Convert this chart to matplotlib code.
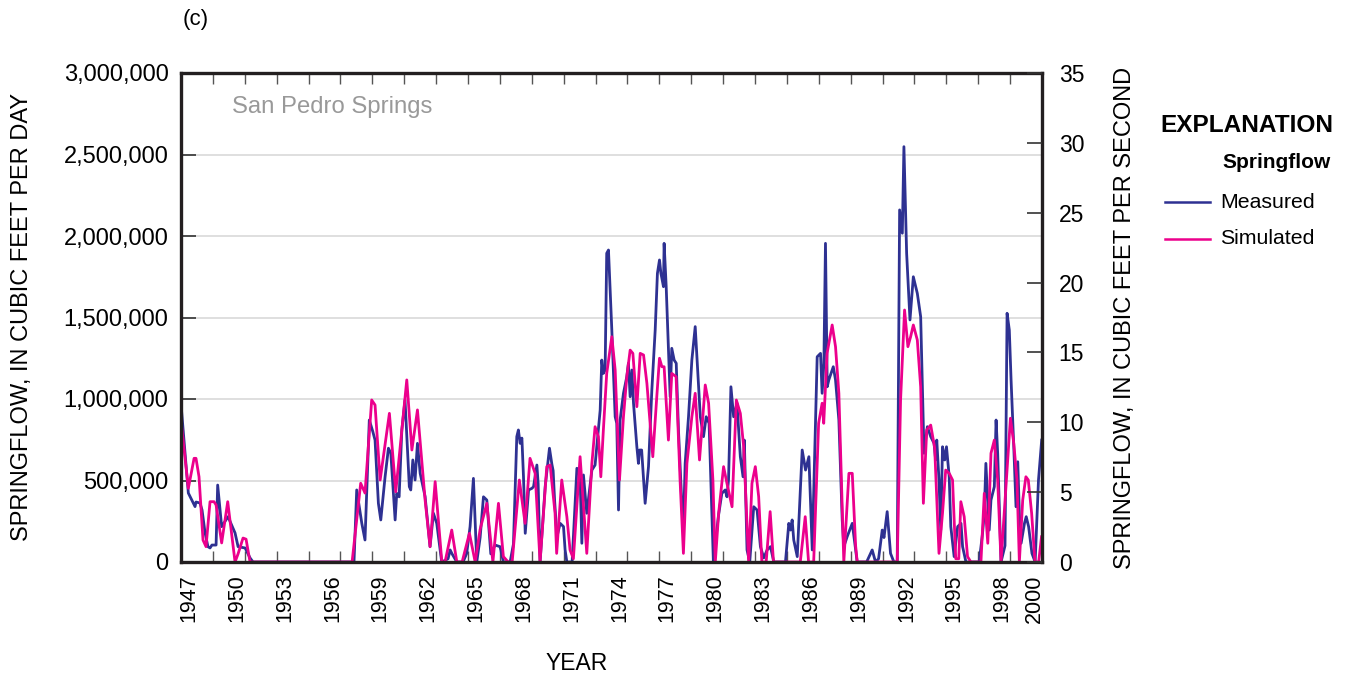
import numpy as np
import matplotlib
matplotlib.use("Agg")
import matplotlib.pyplot as plt

plt.rcParams["font.family"] = ["Liberation Sans", "DejaVu Sans"]

# springflow at San Pedro Springs, thousands of cubic feet per day
measured_year = [
    1947.04, 1947.46, 1947.88, 1947.94, 1948.19, 1948.32, 1948.51, 1948.69, 1948.82, 1948.94,
    1949.20, 1949.30, 1949.55, 1949.95, 1950.39, 1950.58, 1951.02, 1951.33, 1951.52,
    1957.85, 1958.02, 1958.34, 1958.54, 1958.81, 1959.03, 1959.17, 1959.38, 1959.53, 1959.80,
    1960.01, 1960.16, 1960.43, 1960.53, 1960.68, 1960.85, 1961.05, 1961.32, 1961.41, 1961.54,
    1961.68, 1961.83, 1962.00, 1962.31, 1962.62, 1962.83, 1963.04, 1963.35, 1963.75, 1963.88,
    1964.00, 1964.30, 1964.69, 1964.92, 1965.13, 1965.34, 1965.55, 1965.76, 1965.97, 1966.18,
    1966.43, 1966.70, 1967.01, 1967.22, 1967.64, 1967.85, 1968.06, 1968.16, 1968.27, 1968.38,
    1968.48, 1968.59, 1968.80, 1969.01, 1969.11, 1969.32, 1969.40, 1969.52, 1969.84, 1970.11,
    1970.26, 1970.34, 1970.43, 1970.58, 1970.78, 1970.99, 1971.09, 1971.20, 1971.53, 1971.83,
    1972.03, 1972.14, 1972.24, 1972.45, 1972.77, 1972.97, 1973.29, 1973.39, 1973.49, 1973.60,
    1973.70, 1973.81, 1974.02, 1974.23, 1974.33, 1974.44, 1974.54, 1974.75, 1974.96, 1975.06,
    1975.17, 1975.28, 1975.38, 1975.59, 1975.69, 1975.76, 1975.89, 1976.01, 1976.11, 1976.32,
    1976.53, 1976.74, 1976.88, 1977.01, 1977.10, 1977.26, 1977.30, 1977.43, 1977.68, 1977.78,
    1977.93, 1978.06, 1978.20, 1978.41, 1978.52, 1978.62, 1978.83, 1979.04, 1979.25, 1979.46,
    1979.57, 1979.77, 1979.94, 1980.12, 1980.28, 1980.39, 1980.70, 1980.92, 1981.13, 1981.24,
    1981.34, 1981.49, 1981.66, 1981.87, 1982.08, 1982.25, 1982.33, 1982.50, 1982.67, 1982.92,
    1983.13, 1983.34, 1983.55, 1983.76, 1983.97, 1984.18, 1984.91, 1985.12, 1985.23, 1985.33,
    1985.43, 1985.65, 1985.96, 1986.17, 1986.38, 1986.59, 1986.90, 1987.11, 1987.21, 1987.32,
    1987.42, 1987.53, 1987.63, 1987.91, 1988.05, 1988.26, 1988.47, 1988.57, 1988.78, 1989.10,
    1989.41, 1990.00, 1990.35, 1990.56, 1990.75, 1990.98, 1991.09, 1991.29, 1991.50, 1991.71,
    1991.92, 1992.07, 1992.24, 1992.34, 1992.51, 1992.72, 1992.93, 1993.18, 1993.39, 1993.60,
    1993.81, 1994.02, 1994.23, 1994.33, 1994.40, 1994.54, 1994.65, 1994.76, 1994.90, 1995.01,
    1995.18, 1995.28, 1995.49, 1995.71, 1995.92, 1996.02, 1996.23, 1997.06, 1997.27, 1997.38,
    1997.48, 1997.69, 1997.80, 1998.01, 1998.12, 1998.22, 1998.43, 1998.68, 1998.81, 1998.95,
    1999.06, 1999.23, 1999.37, 1999.48, 1999.58, 1999.69, 1999.90, 2000.01, 2000.16, 2000.37,
    2000.57, 2000.78, 2000.98,
]
measured_flow = [
    922, 423, 340, 368, 362, 319, 178, 94, 86, 104,
    104, 472, 217, 278, 178, 94, 86, 25, 0,
    0, 442, 237, 135, 871, 800, 748, 360, 258, 523,
    698, 667, 258, 421, 400, 810, 994, 462, 442, 626,
    503, 728, 544, 401, 94, 299, 237, 0, 20, 74,
    50, 0, 0, 53, 217, 513, 0, 150, 400, 380,
    50, 104, 94, 0, 0, 110, 769, 810, 728, 760,
    523, 176, 442, 452, 462, 595, 480, 0, 462, 698,
    600, 560, 380, 155, 237, 217, 74, 0, 0, 575,
    523, 115, 534, 299, 564, 595, 932, 1239, 1157, 1178,
    1894, 1914, 1423, 891, 851, 319, 871, 1035, 1137, 1219,
    1014, 1178, 974, 707, 605, 687, 687, 503, 360, 585,
    1055, 1423, 1771, 1853, 1771, 1689, 1955, 1690, 1014, 1311,
    1239, 1219, 810, 360, 237, 605, 891, 1239, 1444, 1075,
    891, 769, 891, 851, 339, 0, 278, 421, 442, 400,
    503, 1075, 891, 974, 646, 523, 748, 74, 0, 339,
    319, 94, 25, 74, 94, 0, 0, 237, 196, 258,
    135, 33, 687, 564, 646, 74, 1259, 1280, 1035, 1219,
    1955, 1075, 1117, 1198, 1117, 871, 258, 94, 155, 237,
    0, 0, 74, 0, 20, 196, 150, 309, 53, 0,
    0, 2160, 2017, 2548, 1894, 1485, 1750, 1648, 1505, 667,
    830, 769, 728, 626, 748, 503, 196, 707, 626, 707,
    523, 217, 33, 217, 237, 94, 0, 0, 176, 299,
    605, 196, 380, 462, 871, 667, 0, 100, 1526, 1423,
    1117, 707, 339, 615, 299, 115, 237, 278, 217, 53,
    0, 503, 748,
]

simulated_year = [
    1947.04, 1947.46, 1947.82, 1947.94, 1948.13, 1948.38, 1948.57, 1948.82, 1949.07, 1949.20,
    1949.55, 1949.93, 1950.39, 1950.58, 1950.89, 1951.08, 1951.33,
    1957.73, 1958.27, 1958.54, 1958.96, 1959.17, 1959.49, 1960.07, 1960.47, 1961.16, 1961.48,
    1961.83, 1962.31, 1962.62, 1962.94, 1963.36, 1963.56, 1963.98, 1964.30, 1964.63, 1965.09,
    1965.45, 1965.76, 1966.18, 1966.56, 1966.91, 1967.22, 1967.52, 1967.77, 1968.22, 1968.58,
    1968.89, 1969.21, 1969.52, 1969.94, 1970.15, 1970.46, 1970.56, 1970.88, 1971.20, 1971.40,
    1971.61, 1972.03, 1972.35, 1972.45, 1972.77, 1972.97, 1973.18, 1973.33, 1973.49, 1973.70,
    1974.02, 1974.23, 1974.50, 1974.75, 1974.96, 1975.17, 1975.34, 1975.59, 1975.80, 1976.01,
    1976.22, 1976.59, 1976.84, 1977.01, 1977.16, 1977.30, 1977.57, 1977.78, 1978.05, 1978.30,
    1978.51, 1978.73, 1979.04, 1979.25, 1979.52, 1979.88, 1980.09, 1980.36, 1980.51, 1980.72,
    1981.03, 1981.24, 1981.56, 1981.83, 1982.08, 1982.29, 1982.60, 1982.81, 1983.02, 1983.23,
    1983.43, 1983.70, 1983.95, 1984.16, 1985.84, 1986.15, 1986.36, 1986.68, 1986.99, 1987.21,
    1987.31, 1987.52, 1987.84, 1988.05, 1988.26, 1988.57, 1988.89, 1989.10, 1989.31, 1989.41,
    1991.92, 1992.13, 1992.38, 1992.59, 1992.76, 1992.93, 1993.18, 1993.39, 1993.56, 1993.77,
    1994.02, 1994.27, 1994.54, 1994.76, 1994.96, 1995.18, 1995.39, 1995.59, 1995.78, 1995.91,
    1996.12, 1996.33, 1996.54, 1997.17, 1997.38, 1997.60, 1997.80, 1998.01, 1998.22, 1998.43,
    1998.75, 1999.02, 1999.23, 1999.43, 1999.58, 1999.79, 1999.99, 2000.14, 2000.35, 2000.56,
    2000.79, 2000.97,
]
simulated_flow = [
    830, 452, 636, 636, 523, 135, 94, 370, 370, 350,
    117, 370, 0, 50, 147, 140, 0,
    0, 483, 423, 994, 963, 503, 912, 431, 1117, 687,
    933, 380, 94, 493, 0, 0, 196, 0, 0, 176,
    0, 200, 360, 0, 360, 33, 0, 0, 503, 237,
    636, 544, 0, 585, 595, 299, 53, 503, 278, 74,
    20, 646, 196, 53, 605, 830, 769, 523, 810, 1157,
    1382, 1178, 503, 891, 1137, 1300, 1280, 953, 1280, 1270,
    1096, 646, 1014, 1250, 1198, 1198, 748, 1157, 1137, 503,
    53, 605, 891, 1035, 626, 1086, 974, 503, 0, 299,
    585, 483, 339, 994, 912, 707, 0, 483, 585, 401,
    0, 0, 309, 0, 0, 278, 0, 0, 851, 974,
    851, 1280, 1454, 1321, 1035, 0, 544, 544, 100, 0,
    0, 994, 1546, 1321, 1382, 1454, 1362, 1075, 360, 810,
    840, 700, 53, 299, 564, 544, 503, 20, 20, 370,
    278, 33, 0, 0, 421, 115, 667, 748, 503, 0,
    483, 882, 728, 503, 0, 380, 523, 503, 299, 0,
    0, 155,
]

year_labels = [1947, 1950, 1953, 1956, 1959, 1962, 1965, 1968, 1971, 1974,
               1977, 1980, 1983, 1986, 1989, 1992, 1995, 1998, 2000]
cfd_ticks = [0, 500000, 1000000, 1500000, 2000000, 2500000, 3000000]
cfs_ticks = [0, 5, 10, 15, 20, 25, 30, 35]

BLUE = "#2e3192"
PINK = "#ec008c"

fig = plt.figure(figsize=(13.46, 6.76), dpi=100)
ax = fig.add_axes([181 / 1346, 1 - 562 / 676, 861 / 1346, 489 / 676])

ax.plot(measured_year, np.array(measured_flow) * 1000, color=BLUE, lw=2.0, zorder=3)
ax.plot(simulated_year, np.array(simulated_flow) * 1000, color=PINK, lw=2.0, zorder=4)

ax.set_xlim(1947, 2001)
ax.set_ylim(0, 3000000)

# year labels sit mid-year, small ticks mark every other year boundary
ax.set_xticks([y + 0.5 for y in year_labels])
ax.set_xticklabels([str(y) for y in year_labels], rotation=90, fontsize=15.5)
ax.set_xticks(np.arange(1949, 2001, 2), minor=True)
ax.tick_params(axis="x", which="major", length=0, pad=9)
ax.tick_params(axis="x", which="minor", direction="in", length=8, width=1,
               color="#555555", top=True, bottom=True)

ax.set_yticks(cfd_ticks)
ax.set_yticklabels([f"{v:,}" for v in cfd_ticks], fontsize=17)
ax.tick_params(axis="y", direction="in", length=11, width=1.2, color="#333333", pad=9)
ax.grid(axis="y", color="#dcdcdc", lw=1.3, zorder=1)

for sp in ax.spines.values():
    sp.set_linewidth(2.4)
    sp.set_color("#231f20")
    sp.set_zorder(6)

ax2 = ax.twinx()
ax2.set_ylim(0, 35)
ax2.set_yticks(cfs_ticks)
ax2.set_yticklabels([str(v) for v in cfs_ticks], fontsize=16.5)
ax2.tick_params(axis="y", direction="in", length=11, width=1.2, color="#333333", pad=12)
for sp in ax2.spines.values():
    sp.set_visible(False)

ax.text(0.059, 0.93, "San Pedro Springs", transform=ax.transAxes, fontsize=17.2,
        color="#999999", va="center", ha="left")

fig.text(22 / 1346, 1 - 317 / 676, "SPRINGFLOW, IN CUBIC FEET PER DAY",
         rotation=90, fontsize=17, ha="center", va="center")
fig.text(1125 / 1346, 1 - 318 / 676, "SPRINGFLOW, IN CUBIC FEET PER SECOND",
         rotation=90, fontsize=17, ha="center", va="center")
fig.text(577 / 1346, 1 - 663 / 676, "YEAR", fontsize=16.5, ha="center", va="center")
fig.text(196 / 1346, 1 - 20 / 676, "(c)", fontsize=16, ha="center", va="center")

# explanation block
fig.text(1160 / 1346, 1 - 126 / 676, "EXPLANATION", fontsize=17.6, fontweight="bold",
         ha="left", va="center")
fig.text(1222 / 1346, 1 - 163 / 676, "Springflow", fontsize=15, fontweight="bold",
         ha="left", va="center")
for y_px, colour, name in [(202, BLUE, "Measured"), (239, PINK, "Simulated")]:
    yy = 1 - y_px / 676
    fig.add_artist(plt.Line2D([1165 / 1346, 1210 / 1346], [yy, yy], color=colour, lw=1.8))
    fig.text(1220 / 1346, yy, name, fontsize=15.3, ha="left", va="center")

fig.savefig("out.png", dpi=100)
